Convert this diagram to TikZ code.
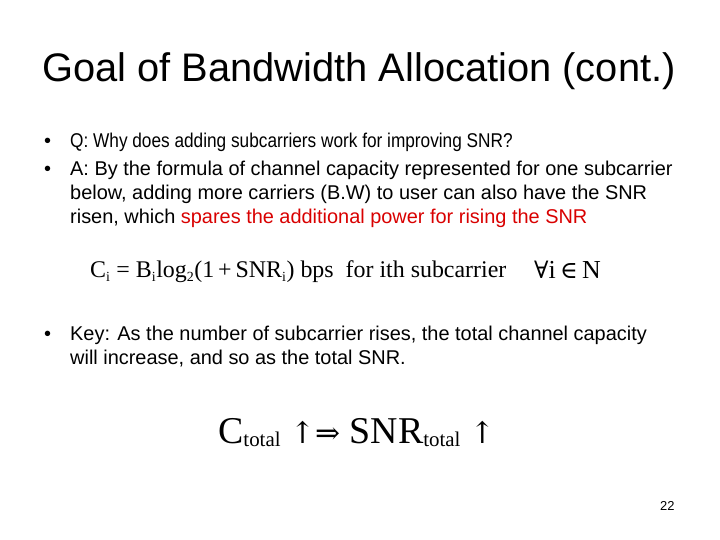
\documentclass[tikz,border=0pt]{standalone}
\usepackage{fontspec}
\setmainfont{Liberation Sans}
\newfontfamily\serif{Liberation Serif}
\newfontfamily\symf{DejaVu Serif}
\begin{document}
\begin{tikzpicture}[x=1bp,y=-1bp,
  txt/.style={anchor=base west,inner sep=0pt,font=\fontsize{20}{22}\selectfont},
  frm/.style={anchor=base west,inner sep=0pt}]
\useasboundingbox[fill=white] (0,0) rectangle (720,540);
\node[txt,font=\fontsize{40}{44}\selectfont] (title) at (42,82) {Goal of Bandwidth Allocation (cont.)};
\node[txt] (b1) at (44,148) {•};
\node[txt,xscale=0.865,transform shape] (q) at (70,148) {Q: Why does adding subcarriers work for improving SNR?};
\node[txt] (b2) at (44,176) {•};
\node[txt] (a1) at (70,176) {A: By the formula of channel capacity represented for one subcarrier};
\node[txt] (a2) at (70,200) {below, adding more carriers (B.W) to user can also have the SNR};
\node[txt] (a3) at (70,224) {risen, which \textcolor{red!85!black}{spares the additional power for rising the SNR}};
\node[frm,font=\serif\fontsize{24}{26}\selectfont] (f1) at (90,278) {C\textsubscript{\fontsize{14}{14}\selectfont i} = B\textsubscript{\fontsize{14}{14}\selectfont i}log\textsubscript{\fontsize{14}{14}\selectfont 2}(1\,+\,SNR\textsubscript{\fontsize{14}{14}\selectfont i}) bps\ \ for ith subcarrier};
\node[frm,font=\serif\fontsize{26}{28}\selectfont] (f2) at (534,279) {{\symf\fontsize{24}{26}\selectfont ∀}i\,{\symf\fontsize{24}{26}\selectfont ∈}\,N};
\node[txt] (b3) at (44,340) {•};
\node[txt] (k1) at (70,340) {Key: As the number of subcarrier rises, the total channel capacity};
\node[txt] (k2) at (70,364) {will increase, and so as the total SNR.};
\node[frm,font=\serif\fontsize{38}{40}\selectfont] (f3) at (218,443) {C\raisebox{-4pt}{\fontsize{21}{21}\selectfont total} {\symf\fontsize{30}{30}\selectfont ↑⇒} SNR\raisebox{-4pt}{\fontsize{21}{21}\selectfont total} {\symf\fontsize{30}{30}\selectfont ↑}};
\node[frm,font=\fontsize{13}{14}\selectfont] (pg) at (660,510) {22};
\end{tikzpicture}
\end{document}
